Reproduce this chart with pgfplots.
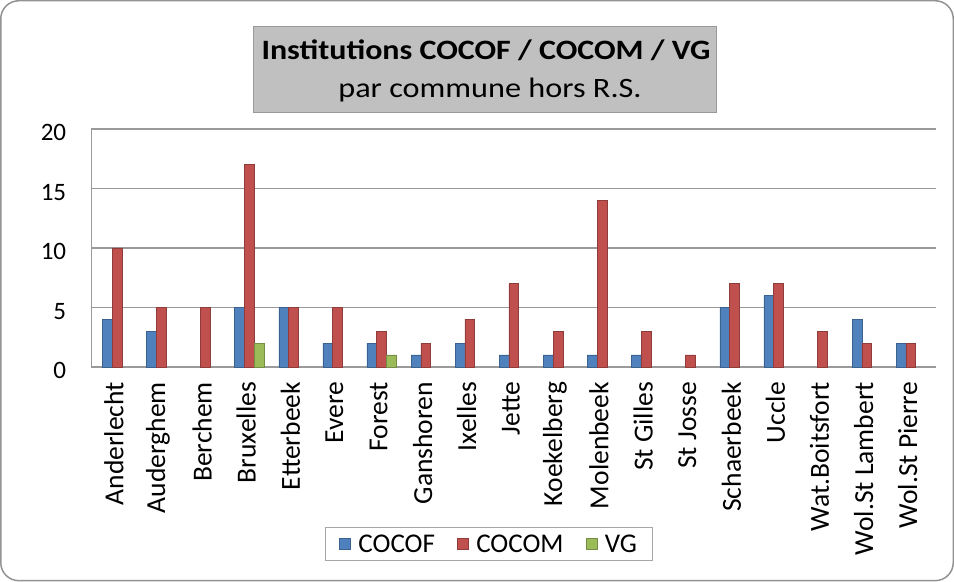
\documentclass[border=0pt]{standalone}
\usepackage{pgfplots}
\pgfplotsset{compat=1.18}
\usepackage{fontspec}
\setmainfont{Carlito}
\definecolor{cblue}{HTML}{4F81BD}
\definecolor{cred}{HTML}{C0504D}
\definecolor{cgreen}{HTML}{9BBB59}
\definecolor{gridc}{HTML}{9A9A9A}
\definecolor{titlebg}{HTML}{C0C0C0}
\begin{document}
\begin{tikzpicture}[x=1pt,y=1pt]
\draw[rounded corners=18pt, color=gray!85, line width=1.5pt] (1.5,1.5) rectangle (952.5,580.5);
\begin{axis}[
  at={(92pt,215pt)}, anchor=south west,
  scale only axis, width=843pt, height=237.6pt,
  xmin=-0.579, xmax=18.567, ymin=0, ymax=20,
  ytick={0,5,10,15,20},
  xtick={0,...,18},
  xticklabels={Anderlecht,Auderghem,Berchem,Bruxelles,Etterbeek,Evere,Forest,Ganshoren,Ixelles,Jette,Koekelberg,Molenbeek,St Gilles,St Josse,Schaerbeek,Uccle,Wat.Boitsfort,Wol.St Lambert,Wol.St Pierre},
  xticklabel style={rotate=90, anchor=east, font=\fontsize{27.5}{32}\selectfont, inner sep=0pt, xshift=-15pt, yshift=3pt},
  yticklabel style={font=\fontsize{25}{30}\selectfont, inner sep=0pt, xshift=-25pt, yshift=-4pt},
  /pgf/number format/assume math mode=true,
  major tick length=0pt,
  ymajorgrids, grid style={gridc, line width=1.6pt},
  axis x line*=bottom, axis y line*=left,
  axis line style={gridc, line width=1.6pt, -},
  ybar, bar width=9.7pt,
  legend style={at={(0.471,-0.745)}, anchor=center, draw=gray!70, line width=1pt,
    font=\fontsize{27}{30}\selectfont, legend columns=3,
    /tikz/every even column/.append style={column sep=20pt},
    inner xsep=14pt, inner ysep=5pt},
  legend image code/.code={\fill[#1] (0pt,-5.5pt) rectangle (11pt,5.5pt); \path[draw=none,fill=none] (0pt,0pt) -- (17pt,0pt);},
  clip=false,
]
\addplot[bar shift=-9.7pt, fill=cblue, draw=cblue!75!black, line width=0.4pt] coordinates {
(0,4) (1,3) (3,5) (4,5) (5,2) (6,2) (7,1) (8,2) (9,1) (10,1) (11,1) (12,1) (14,5) (15,6) (17,4) (18,2)};
\addplot[bar shift=0pt, fill=cred, draw=cred!75!black, line width=0.4pt] coordinates {
(0,10) (1,5) (2,5) (3,17) (4,5) (5,5) (6,3) (7,2) (8,4) (9,7) (10,3) (11,14) (12,3) (13,1) (14,7) (15,7) (16,3) (17,2) (18,2)};
\addplot[bar shift=9.7pt, fill=cgreen, draw=cgreen!75!black, line width=0.4pt] coordinates {
(3,2) (6,1)};
\legend{COCOF,COCOM,VG}
\end{axis}
\draw[fill=titlebg, draw=gray!80, line width=1pt] (254,469) rectangle (716,555);
\node[font=\fontsize{28}{32}\selectfont\bfseries, xscale=1.14] at (486,531) {Institutions COCOF / COCOM / VG};
\node[font=\fontsize{28}{32}\selectfont, xscale=1.15] at (490,491) {par commune hors R.S.};
\end{tikzpicture}
\end{document}
